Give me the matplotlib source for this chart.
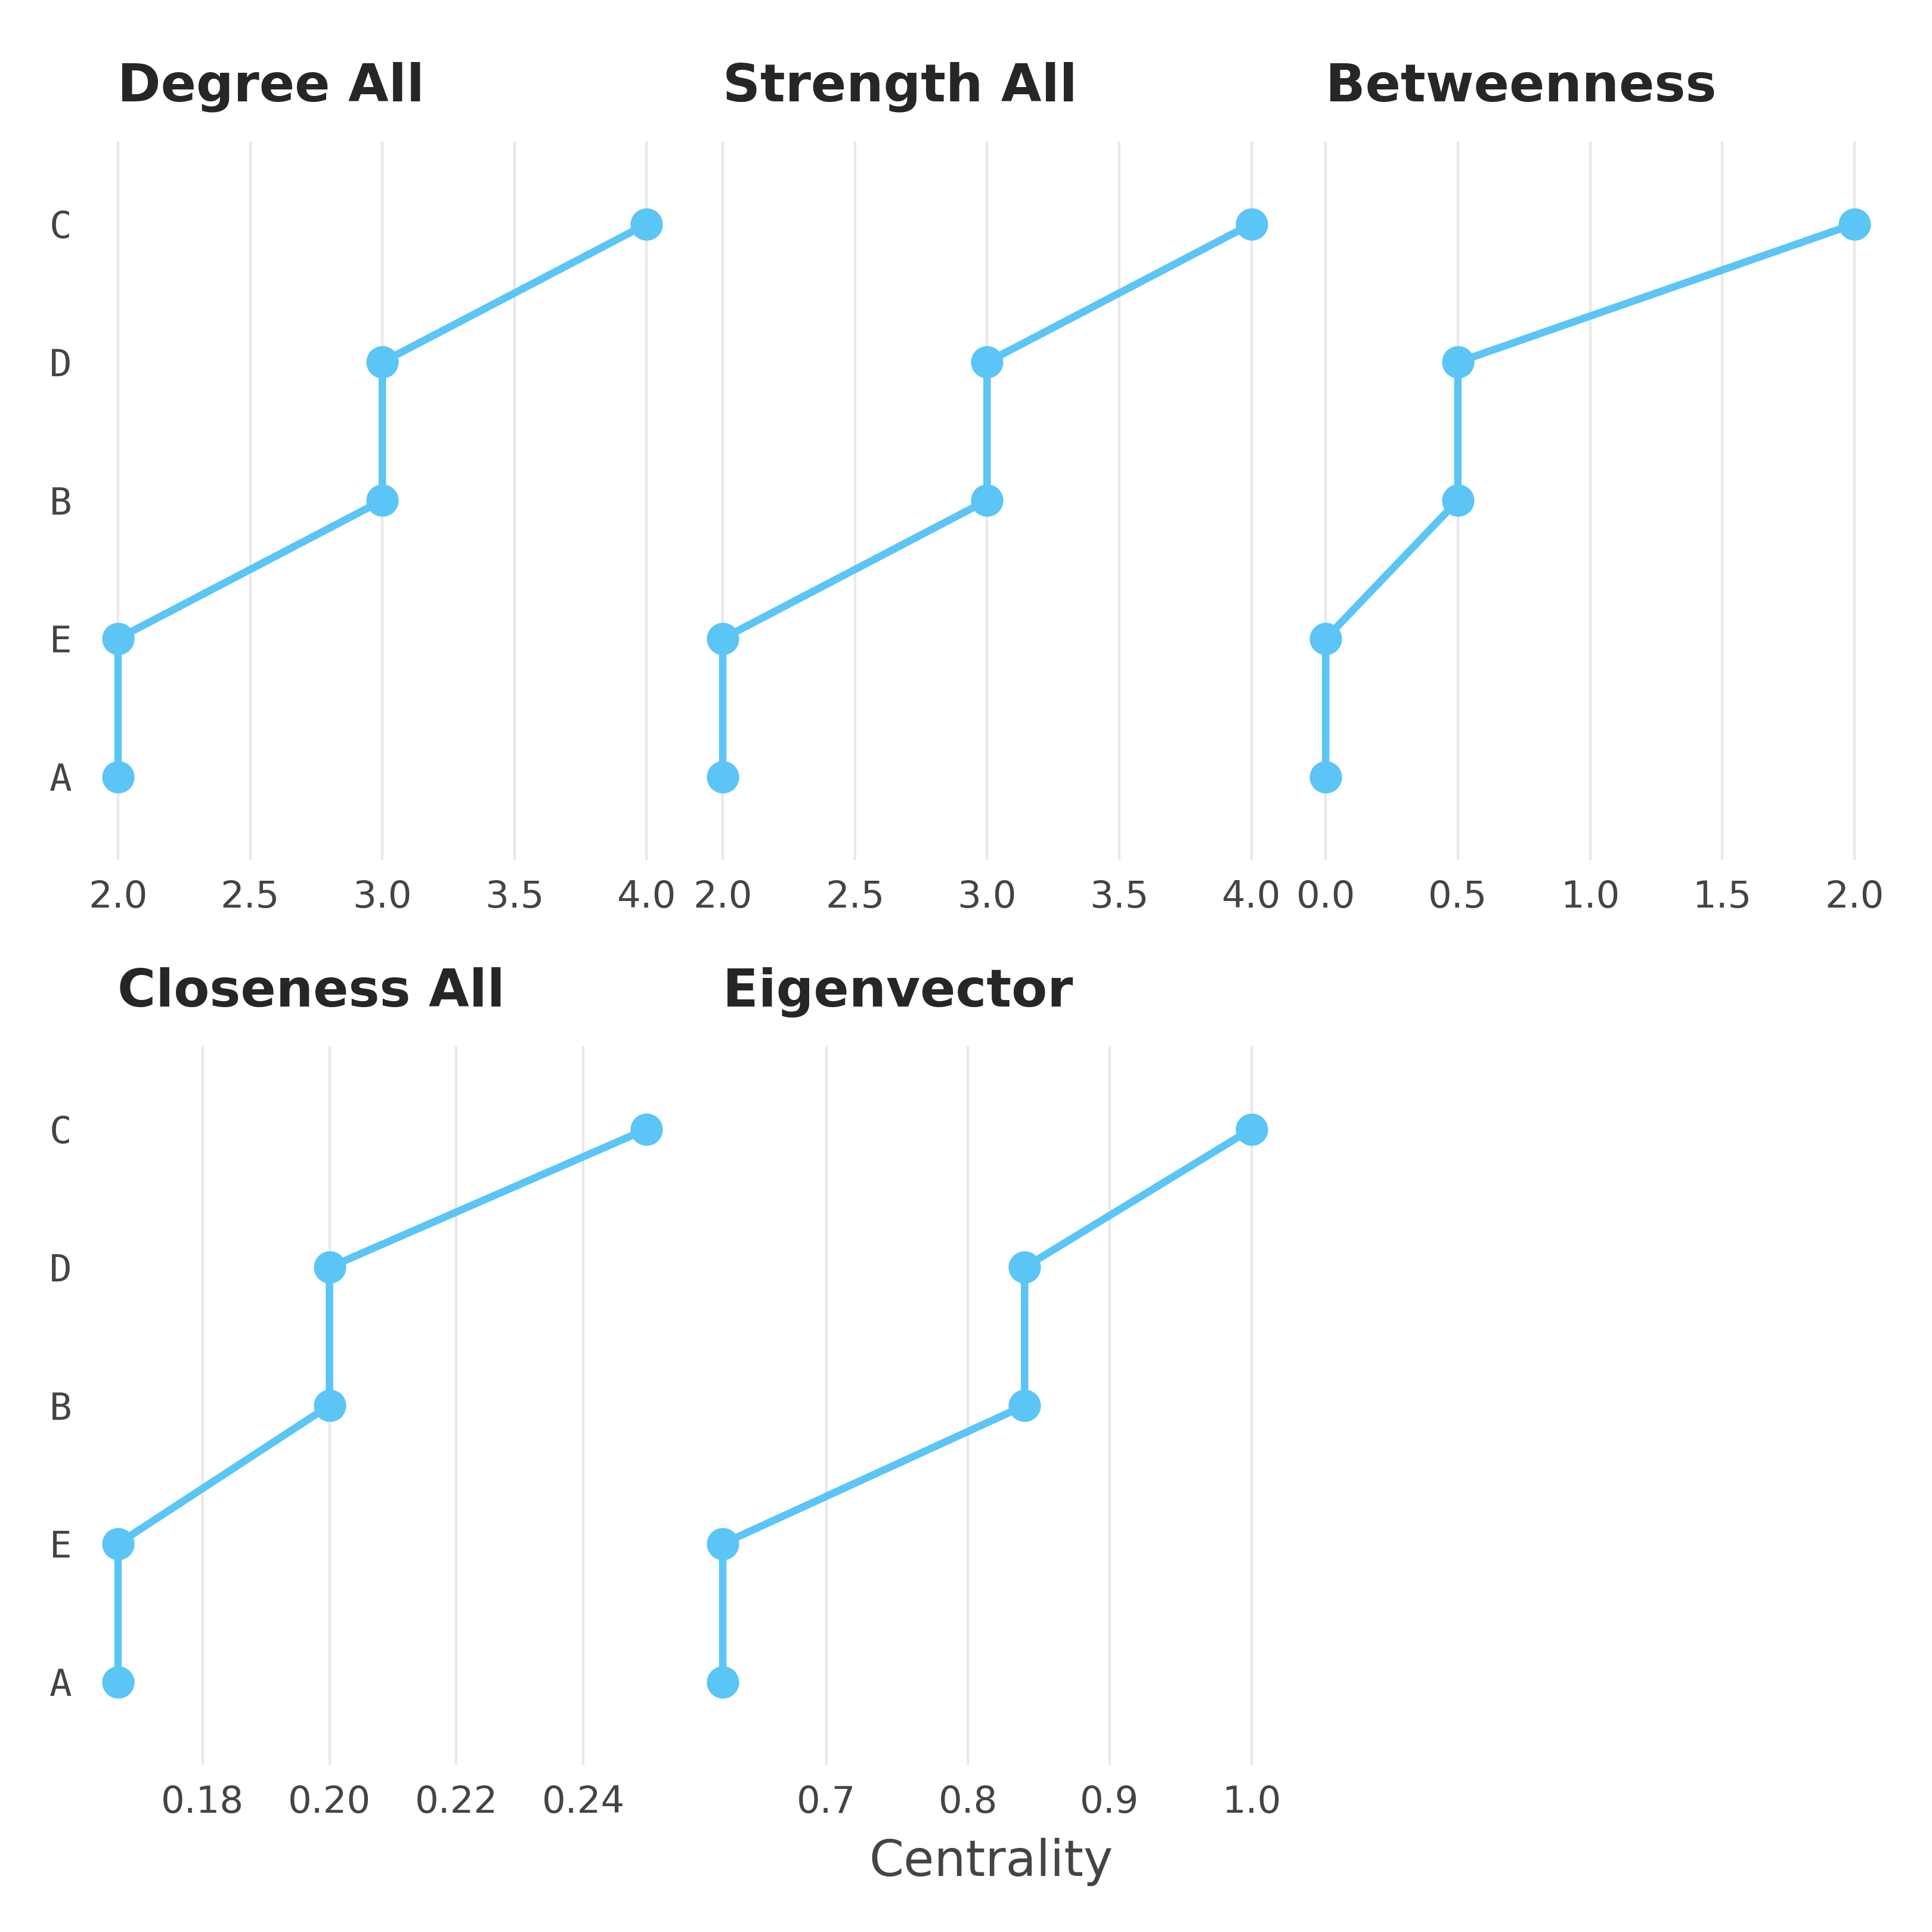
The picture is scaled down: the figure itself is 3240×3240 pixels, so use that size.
import matplotlib
matplotlib.use("Agg")
import matplotlib.pyplot as plt

nodes = ["A", "E", "B", "D", "C"]
titles = ["Degree All", "Strength All", "Betweenness", "Closeness All", "Eigenvector"]
degree = [2, 2, 3, 3, 4]
strength = [2, 2, 3, 3, 4]
betweenness = [0, 0, 0.5, 0.5, 2]
closeness = [1/6, 1/6, 0.2, 0.2, 0.25]
eigenvector = [0.627, 0.627, 0.84, 0.84, 1.0]
series = [degree, strength, betweenness, closeness, eigenvector]
ticks = [
    [2.0, 2.5, 3.0, 3.5, 4.0],
    [2.0, 2.5, 3.0, 3.5, 4.0],
    [0.0, 0.5, 1.0, 1.5, 2.0],
    [0.18, 0.20, 0.22, 0.24],
    [0.7, 0.8, 0.9, 1.0],
]
ticklabels = [
    ["2.0", "2.5", "3.0", "3.5", "4.0"],
    ["2.0", "2.5", "3.0", "3.5", "4.0"],
    ["0.0", "0.5", "1.0", "1.5", "2.0"],
    ["0.18", "0.20", "0.22", "0.24"],
    ["0.7", "0.8", "0.9", "1.0"],
]

color = "#5BC5F5"
fig = plt.figure(figsize=(10.8, 10.8), dpi=300)
lefts = [0.0474, 0.3604, 0.6725]
bottoms = [0.555, 0.0865]
w, h = 0.301, 0.372

for i, vals in enumerate(series):
    r, c = divmod(i, 3)
    ax = fig.add_axes([lefts[c], bottoms[r], w, h])
    ypos = list(range(len(nodes)))
    ax.plot(vals, ypos, color=color, lw=3, marker="o", ms=12, zorder=3)
    lo, hi = min(vals), max(vals)
    pad = (hi - lo) * 0.05
    ax.set_xlim(lo - pad, hi + pad)
    ax.set_ylim(-0.6, 4.6)
    ax.set_xticks(ticks[i])
    ax.set_xticklabels(ticklabels[i])
    ax.set_yticks(ypos)
    if c == 0:
        ax.set_yticklabels(nodes, family="DejaVu Sans Mono")
    else:
        ax.set_yticklabels([])
    ax.grid(axis="x", color="#e8e8e8", lw=1)
    ax.set_axisbelow(True)
    for s in ax.spines.values():
        s.set_visible(False)
    ax.tick_params(length=0, labelsize=15, labelcolor="#444444", pad=8)
    ax.text(0.045, 1.04, titles[i], transform=ax.transAxes, ha="left", va="bottom",
            fontsize=21, fontweight="bold", color="#262626")

fig.text(0.513, 0.029, "Centrality", ha="center", fontsize=20, color="#444444")
fig.savefig("out.png", dpi=300, facecolor="white")
